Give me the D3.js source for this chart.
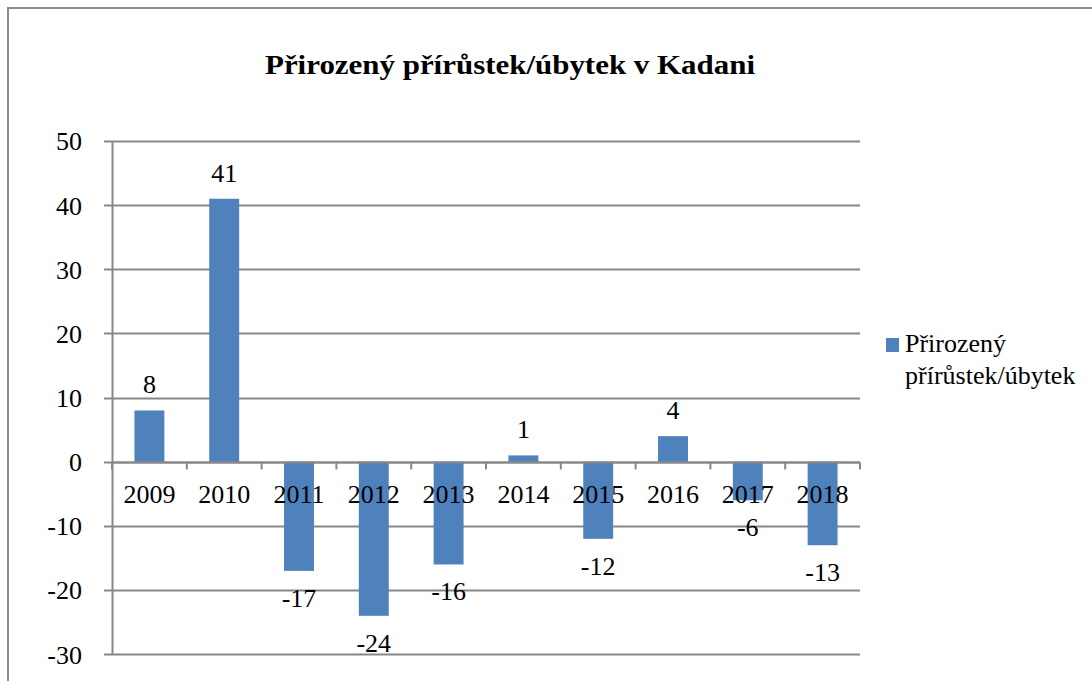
<!DOCTYPE html>
<html><head><meta charset="utf-8">
<script src="https://cdn.jsdelivr.net/npm/d3@7"></script>
<style>
html,body{margin:0;padding:0;background:#fff;}
svg{display:block;}
text{font-family:"Liberation Serif","Times New Roman",serif;fill:#000;}
</style></head>
<body>
<script>
const title = "Přirozený přírůstek/úbytek v Kadani";
const categories = ["2009","2010","2011","2012","2013","2014","2015","2016","2017","2018"];
const values = [8,41,-17,-24,-16,1,-12,4,-6,-13];
const yTicks = [50,40,30,20,10,0,-10,-20,-30];
const seriesName = ["Přirozený", "přírůstek/úbytek"];

const W = 1092, H = 681;
const svg = d3.select("body").append("svg").attr("width", W).attr("height", H);

// chart border
svg.append("rect").attr("x", 8).attr("y", 8).attr("width", 1200).attr("height", 800)
  .attr("fill", "none").attr("stroke", "#8c8c8c").attr("stroke-width", 2);

const x = d3.scaleBand().domain(categories).range([112, 860]).padding(0);
const y = d3.scaleLinear().domain([-30, 50]).range([654.3, 141]);

// gridlines
svg.append("g").selectAll("line").data(yTicks).join("line")
  .attr("x1", 104).attr("x2", 860)
  .attr("y1", d => Math.round(y(d)) + 0.5).attr("y2", d => Math.round(y(d)) + 0.5)
  .attr("stroke", "#878787").attr("stroke-width", 2);

// y axis
const yAxis = d3.axisLeft(y).tickValues(yTicks).tickSize(0).tickPadding(0)
  .tickFormat(d => String(d));
const gy = svg.append("g").attr("transform", "translate(82,0)").call(yAxis);
gy.select(".domain").remove();
gy.selectAll("text").attr("font-size", "26px").attr("font-family", "Liberation Serif")
  .attr("fill", "#000").attr("dy", "0.34em");

svg.append("line").attr("x1", 112.5).attr("x2", 112.5).attr("y1", y(50)).attr("y2", y(-30))
  .attr("stroke", "#878787").attr("stroke-width", 2);

// bars
const bw = x.bandwidth() * 0.4;
svg.append("g").selectAll("rect").data(values).join("rect")
  .attr("x", (d, i) => x(categories[i]) + (x.bandwidth() - bw) / 2)
  .attr("width", bw)
  .attr("y", d => Math.min(y(d), y(0)))
  .attr("height", d => Math.abs(y(d) - y(0)))
  .attr("fill", "#4f81bd");

// zero axis with ticks
const y0 = Math.round(y(0)) + 0.5;
svg.append("line").attr("x1", 112).attr("x2", 860).attr("y1", y0).attr("y2", y0)
  .attr("stroke", "#878787").attr("stroke-width", 2);
const xAxis = d3.axisBottom(x).tickSize(0).tickPadding(0);
const gx = svg.append("g").attr("transform", `translate(0,${y0})`).call(xAxis);
gx.select(".domain").remove();
gx.selectAll("text").attr("font-size", "26px").attr("font-family", "Liberation Serif")
  .attr("fill", "#000").attr("dy", null).attr("y", 40);
const bounds = categories.map(c => x(c)).concat([x.range()[1]]);
svg.append("g").selectAll("line").data(bounds).join("line")
  .attr("x1", d => d).attr("x2", d => d).attr("y1", y0).attr("y2", y0 + 7)
  .attr("stroke", "#878787").attr("stroke-width", 2);

// data labels
svg.append("g").selectAll("text").data(values).join("text")
  .attr("x", (d, i) => x(categories[i]) + x.bandwidth() / 2)
  .attr("y", d => d >= 0 ? y(d) - 17 : y(d) + 36)
  .attr("text-anchor", "middle").attr("font-size", "26px")
  .text(d => String(d));

// title
svg.append("text").attr("x", 265).attr("y", 74)
  .attr("font-size", "27.5px").attr("font-weight", "bold")
  .attr("textLength", 490).attr("lengthAdjust", "spacingAndGlyphs").text(title);

// legend
svg.append("rect").attr("x", 886).attr("y", 338).attr("width", 13).attr("height", 14).attr("fill", "#4f81bd");
svg.append("g").selectAll("text").data(seriesName).join("text")
  .attr("x", 905).attr("y", (d, i) => 352 + i * 31.5).attr("font-size", "26px").text(d => d);
</script>
</body></html>
